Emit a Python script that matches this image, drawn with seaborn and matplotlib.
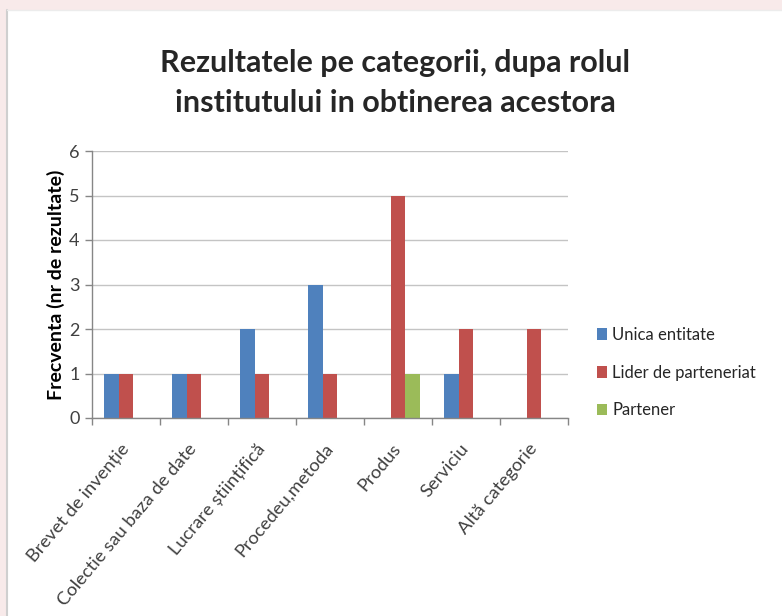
import matplotlib
matplotlib.use("Agg")
import matplotlib.pyplot as plt
import matplotlib.patches as mpatches
import seaborn as sns
import pandas as pd
import numpy as np

categories = ["Brevet de invenție", "Colectie sau baza de date", "Lucrare științifică",
              "Procedeu,metoda", "Produs", "Serviciu", "Altă categorie"]
series_names = ["Unica entitate", "Lider de parteneriat", "Partener"]
unica = [1, 1, 2, 3, 0, 1, 0]
lider = [1, 1, 1, 1, 5, 2, 2]
partener = [0, 0, 0, 0, 1, 0, 0]
colors = ["#4F81BD", "#C0504D", "#9BBB59"]
yticks = [0, 1, 2, 3, 4, 5, 6]
title_lines = ["Rezultatele pe categorii, dupa rolul", "institutului in obtinerea acestora"]

rows = []
for name, vals in zip(series_names, [unica, lider, partener]):
    for c, v in zip(categories, vals):
        rows.append({"cat": c, "series": name, "val": v})
df = pd.DataFrame(rows)

sns.set_theme(style="white")
plt.rcParams['font.family'] = ['Lato', 'DejaVu Sans']

fig = plt.figure(figsize=(7.82, 6.16), dpi=100)
fig.patch.set_facecolor("#f8eaea")
# white panel
fig.add_artist(mpatches.Rectangle((7/782, 0), 1, 1 - 10/616, transform=fig.transFigure,
                                  facecolor="white", edgecolor="none", zorder=0))
fig.add_artist(plt.Line2D([7/782, 7/782], [0, 1 - 10/616], transform=fig.transFigure,
                          color="#cfcfcf", lw=1.5, zorder=1))
fig.add_artist(plt.Line2D([7/782, 1], [1 - 10/616, 1 - 10/616], transform=fig.transFigure,
                          color="#ececec", lw=1, zorder=1))

ax = fig.add_axes([92/782, 1 - 418/616, (568 - 92)/782, (418 - 151)/616])
ax.set_facecolor("none")

sns.barplot(data=df, x="cat", y="val", hue="series", palette=colors, width=0.64,
            dodge=True, linewidth=0, saturation=1, ax=ax, order=categories,
            hue_order=series_names)

ax.set_ylim(0, 6)
ax.set_xlim(-0.5, len(categories) - 0.5)
ax.set_yticks(yticks)
ax.set_yticklabels([str(t) for t in yticks], fontsize=13, color="#404040")
ax.yaxis.grid(True, color="#c4c4c4", lw=1)
ax.set_axisbelow(True)
ax.tick_params(axis="y", length=5, color="#868686", width=1, left=True, pad=4)
ax.set_xticks(range(len(categories)))
ax.set_xticklabels(categories, rotation=50, ha="right", va="center", rotation_mode="anchor",
                   fontsize=13.2, color="#404040")
ax.set_xticks(np.arange(-0.5, len(categories), 1), minor=True)
ax.tick_params(axis="x", which="major", length=0, pad=20)
ax.tick_params(axis="x", which="minor", length=5, color="#868686", width=1, bottom=True)
for s in ["top", "right"]:
    ax.spines[s].set_visible(False)
for s in ["left", "bottom"]:
    ax.spines[s].set_color("#868686")
    ax.spines[s].set_linewidth(1)
ax.set_xlabel("")
ax.set_ylabel("Frecventa (nr de rezultate)", fontsize=14, fontweight="bold", color="black",
              labelpad=3)

leg = ax.legend(loc="center left", bbox_to_anchor=(1.03, 0.17), frameon=False, fontsize=12,
                handlelength=0.6, handleheight=0.7, handletextpad=0.3, labelspacing=1.3)

fig.text(0.505, 1 - 72/616, title_lines[0], ha="center", va="baseline",
         fontsize=22, fontweight="bold")
fig.text(0.505, 1 - 112/616, title_lines[1], ha="center", va="baseline",
         fontsize=22, fontweight="bold")

fig.savefig("out.png", dpi=100)
